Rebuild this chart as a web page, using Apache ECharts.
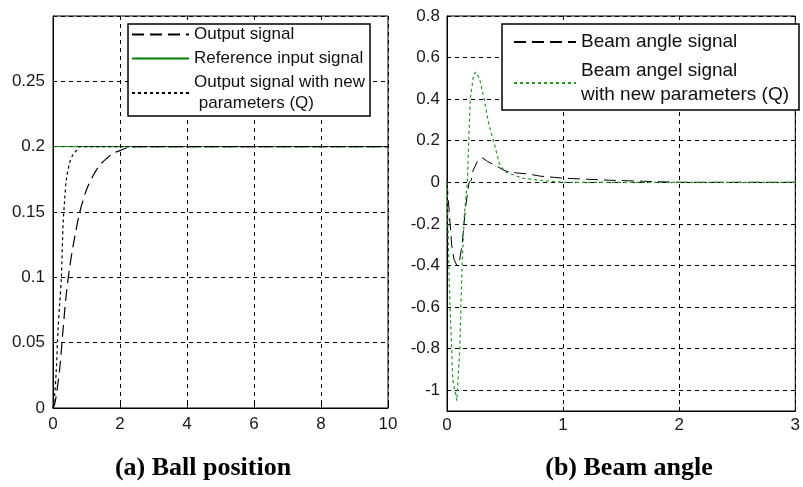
<!DOCTYPE html>
<html>
<head>
<meta charset="utf-8">
<script src="https://cdn.jsdelivr.net/npm/echarts@6/dist/echarts.min.js"></script>
<style>
  html, body { margin: 0; padding: 0; background: #fff; }
  #chart { width: 803px; height: 487px; }
</style>
</head>
<body>
<div id="chart"></div>
<script>
// (a) ball position
var tOut = [0, 0.05, 0.1, 0.2, 0.3, 0.4, 0.5, 0.6, 0.8, 1.0, 1.2, 1.4, 1.6, 1.8, 2.0, 2.2, 2.5, 10];
var yOut = [0, 0.003, 0.01, 0.03, 0.06, 0.088, 0.108, 0.124, 0.15, 0.167, 0.178, 0.186, 0.191, 0.195, 0.197, 0.199, 0.2, 0.2];
var tQ = [0, 0.05, 0.1, 0.15, 0.2, 0.25, 0.3, 0.35, 0.4, 0.5, 0.6, 0.7, 0.8, 10];
var yQ = [0, 0.01, 0.03, 0.06, 0.08, 0.1, 0.14, 0.16, 0.175, 0.188, 0.194, 0.197, 0.2, 0.2];
var tRef = [0, 10];
var yRef = [0.2, 0.2];

// (b) beam angle
var tBeam = [0, 0.02, 0.04, 0.06, 0.085, 0.11, 0.13, 0.16, 0.19, 0.21, 0.22, 0.26, 0.3, 0.35, 0.42, 0.5, 0.6, 0.7, 0.8, 1.0, 1.2, 1.4, 1.7, 2.0, 3];
var yBeam = [0, -0.15, -0.3, -0.37, -0.4, -0.37, -0.3, -0.12, 0, 0.01, 0.05, 0.1, 0.12, 0.1, 0.08, 0.055, 0.045, 0.04, 0.03, 0.02, 0.015, 0.01, 0.005, 0, 0];
var tBeamQ = [0, 0.02, 0.05, 0.085, 0.11, 0.13, 0.15, 0.175, 0.2, 0.23, 0.25, 0.28, 0.32, 0.36, 0.41, 0.45, 0.5, 0.65, 0.8, 1.0, 3];
var yBeamQ = [0, -0.5, -0.95, -1.05, -0.8, -0.4, -0.15, 0, 0.4, 0.52, 0.53, 0.5, 0.4, 0.28, 0.18, 0.09, 0.05, 0.02, 0.01, 0, 0];

var yTicksA = [0, 0.05, 0.1, 0.15, 0.2, 0.25];
var yTicksB = [-1, -0.8, -0.6, -0.4, -0.2, 0, 0.2, 0.4, 0.6, 0.8];

function pairs(xs, ys) {
    return xs.map(function (x, i) { return [x, ys[i]]; });
}

var myChart = echarts.init(document.getElementById('chart'));

var labelStyle = { color: '#1a1a1a', fontFamily: 'Liberation Sans', fontSize: 17 };
var gridLine = { show: true, lineStyle: { color: '#000', type: [4, 4], width: 1 } };
var frameLine = { onZero: false, lineStyle: { color: '#000', width: 1 } };
var inTick = { inside: true, length: 4, lineStyle: { color: '#000' } };
var titleFont = { fontFamily: 'Liberation Serif', fontWeight: 'bold', fontSize: 26, color: '#000' };

var option = {
    animation: false,
    title: [
        { text: '(a) Ball position', left: 198, top: 450, textAlign: 'center', textStyle: titleFont },
        { text: '(b) Beam angle', left: 624, top: 450, textAlign: 'center', textStyle: titleFont }
    ],
    grid: [
        { left: 53, top: 16, width: 335, height: 392, show: true, borderColor: '#000', borderWidth: 1, backgroundColor: '#fff' },
        { left: 447, top: 16, width: 354, height: 395, show: true, borderColor: '#000', borderWidth: 1, backgroundColor: '#fff' }
    ],
    legend: [
        {
            data: ['Output signal', 'Reference input signal', 'Output signal with new\n parameters (Q)'],
            orient: 'vertical', left: 128, top: 24,
            itemWidth: 57, itemHeight: 14, itemGap: 3,
            padding: [0, 5, 2, 3],
            itemStyle: { opacity: 0 },
            borderColor: '#000', borderWidth: 1.5, backgroundColor: '#fff',
            textStyle: { fontFamily: 'Liberation Sans', fontSize: 17, color: '#111', lineHeight: 21 }
        },
        {
            data: ['Beam angle signal', 'Beam angel signal\nwith new parameters (Q)'],
            orient: 'vertical', left: 502, top: 24,
            itemWidth: 62, itemHeight: 14, itemGap: 5,
            padding: [6, 10, 3, 11],
            itemStyle: { opacity: 0 },
            borderColor: '#000', borderWidth: 1.5, backgroundColor: '#fff',
            textStyle: { fontFamily: 'Liberation Sans', fontSize: 19, color: '#111', lineHeight: 24 }
        }
    ],
    xAxis: [
        {
            type: 'value', gridIndex: 0, min: 0, max: 10, interval: 2,
            axisLine: frameLine, axisTick: inTick,
            axisLabel: Object.assign({ margin: 8 }, labelStyle),
            splitLine: gridLine
        },
        {
            type: 'value', gridIndex: 1, min: 0, max: 3, interval: 1,
            axisLine: frameLine, axisTick: inTick,
            axisLabel: Object.assign({ margin: 6 }, labelStyle),
            splitLine: gridLine
        }
    ],
    yAxis: [
        {
            type: 'value', gridIndex: 0, min: 0, max: 0.3, interval: 0.05,
            axisLine: frameLine, axisTick: inTick,
            axisLabel: Object.assign({
                margin: 8,
                formatter: function (v) {
                    return yTicksA.some(function (t) { return Math.abs(t - v) < 1e-9; }) ? String(+v.toFixed(2)) : '';
                }
            }, labelStyle),
            splitLine: gridLine
        },
        {
            type: 'value', gridIndex: 1, min: -1.1, max: 0.8,
            axisLine: frameLine,
            axisTick: Object.assign({ customValues: yTicksB }, inTick),
            axisLabel: Object.assign({
                margin: 7, customValues: yTicksB,
                formatter: function (v) { return String(+v.toFixed(1)); }
            }, labelStyle),
            splitLine: gridLine
        }
    ],
    series: [
        {
            name: 'Reference input signal', type: 'line', xAxisIndex: 0, yAxisIndex: 0,
            data: pairs(tRef, yRef), symbol: 'none',
            lineStyle: { color: '#008000', width: 1, type: 'solid' }, z: 2
        },
        {
            name: 'Output signal', type: 'line', xAxisIndex: 0, yAxisIndex: 0,
            data: pairs(tOut, yOut), symbol: 'none', smooth: 0.3,
            lineStyle: { color: '#000', width: 1.2, type: [12, 6] }, z: 3
        },
        {
            name: 'Output signal with new\n parameters (Q)', type: 'line', xAxisIndex: 0, yAxisIndex: 0,
            data: pairs(tQ, yQ), symbol: 'none', smooth: 0.3,
            lineStyle: { color: '#000', width: 1.2, type: [3, 3] }, z: 4
        },
        {
            name: 'Beam angle signal', type: 'line', xAxisIndex: 1, yAxisIndex: 1,
            data: pairs(tBeam, yBeam), symbol: 'none',
            lineStyle: { color: '#000', width: 1, type: [12, 6] }, z: 3
        },
        {
            name: 'Beam angel signal\nwith new parameters (Q)', type: 'line', xAxisIndex: 1, yAxisIndex: 1,
            data: pairs(tBeamQ, yBeamQ), symbol: 'none',
            lineStyle: { color: '#1f9a1f', width: 1.2, type: [3, 3] }, z: 3
        }
    ]
};

myChart.setOption(option);
</script>
</body>
</html>
